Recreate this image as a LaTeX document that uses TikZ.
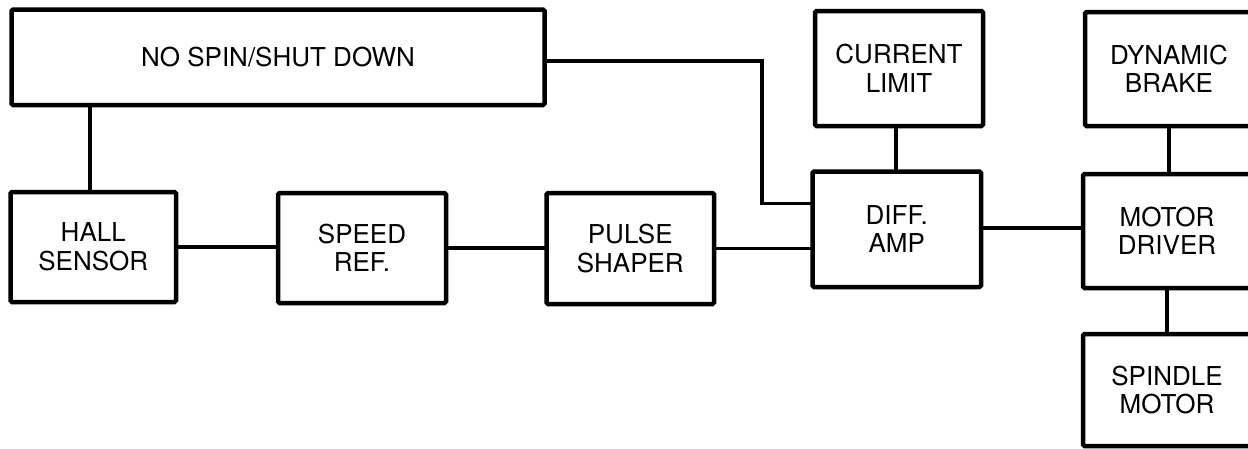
\documentclass[tikz,border=0pt]{standalone}
\usepackage{fontspec}
\setmainfont{TeX Gyre Heros}
\begin{document}
\begin{tikzpicture}[x=1pt,y=-1pt,
  blk/.style={draw, line width=4.5pt, rounded corners=1.5pt, inner sep=0pt, outer sep=0pt,
    align=center, font=\fontsize{26}{28.5}\selectfont},
  wire/.style={line width=3.3pt}]
\useasboundingbox (0,0) rectangle (1248,448);
\node[blk, minimum width=533pt, minimum height=95.5pt] (nospin) at (278,57.25) {NO SPIN/SHUT DOWN};
\node[blk, minimum width=165.5pt, minimum height=110pt] (hall) at (93.25,247) {HALL\\SENSOR};
\node[blk, minimum width=168pt, minimum height=110pt] (speed) at (362,248) {SPEED\\REF.};
\node[blk, minimum width=167.5pt, minimum height=111pt] (pulse) at (630.25,248.5) {PULSE\\SHAPER};
\node[blk, minimum width=168pt, minimum height=115pt] (cl) at (899,68.5) {CURRENT\\LIMIT};
\node[blk, minimum width=168.5pt, minimum height=115.5pt] (diff) at (896.75,229.25) {DIFF.\\AMP};
\node[blk, minimum width=168pt, minimum height=114pt] (db) at (1169,69) {DYNAMIC\\BRAKE};
\node[blk, minimum width=168pt, minimum height=114pt] (md) at (1167,231) {MOTOR\\DRIVER};
\node[blk, minimum width=168pt, minimum height=112pt] (sm) at (1167,390) {SPINDLE\\MOTOR};
\coordinate (bA) at (762,61);
\coordinate (bB) at (762,203.5);
\coordinate (hx) at (90,0);
\draw[wire] (hx |- nospin.south) -- (hx |- hall.north);
\draw[wire] (hall.east) -- (hall.east -| speed.west);
\draw[wire] (speed.east) -- (speed.east -| pulse.west);
\draw[wire] (pulse.east) -- (pulse.east -| diff.west);
\draw[wire] (bA -| nospin.east) -- (bA) -- (bB) -- (bB -| diff.west);
\coordinate (cx) at (896,0);
\draw[wire] (cx |- cl.south) -- (cx |- diff.north);
\coordinate (dy) at (0,228);
\draw[wire] (dy -| diff.east) -- (dy -| md.west);
\coordinate (ex) at (1169,0);
\draw[wire] (ex |- db.south) -- (ex |- md.north);
\coordinate (fx) at (1167,0);
\draw[wire] (fx |- md.south) -- (fx |- sm.north);
\end{tikzpicture}
\end{document}
